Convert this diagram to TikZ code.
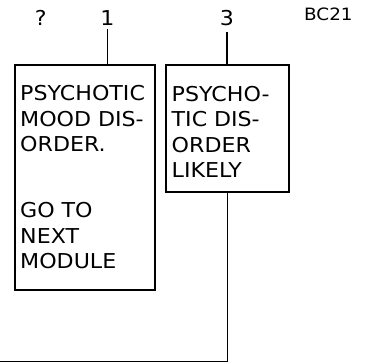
\documentclass[tikz,border=0pt]{standalone}
\usepackage{fontspec}
\setmainfont{DejaVu Sans}[FakeStretch=1.08]
\tikzset{
  box/.style={draw,line width=1.8pt,inner sep=0pt,anchor=north west},
  boxtext/.style={inner sep=0pt,anchor=base west,align=left,text width=125pt,
    font=\fontsize{20.5}{25.5}\selectfont},
  label/.style={anchor=base,inner sep=3.5pt,font=\fontsize{20.5}{24}\selectfont},
  link/.style={line width=1.8pt}
}
\begin{document}
\begin{tikzpicture}[x=1pt,y=-1pt]
  \useasboundingbox (0,0) rectangle (370,363);

  \node[label] (unknown) at (40.7,25.7) {?};
  \node[label] (one) at (107.5,25.7) {1};
  \node[label,inner sep=6pt] (three) at (227,25.7) {3};
  \node[anchor=base west,inner sep=0pt,font=\fontsize{17}{20}\selectfont] (code) at (304,20.7) {BC21};

  \node[box,minimum width=140pt,minimum height=225pt] (mood) at (14,64) {};
  \node[box,minimum width=123pt,minimum height=127pt] (likely) at (165,64) {};

  \node[boxtext] (moodtext) at (20,100.7) {PSYCHOTIC\\MOOD DIS-\\ORDER.\\[40.8pt]GO TO\\NEXT\\MODULE};
  \node[boxtext,text width=110pt] (likelytext) at (171.5,101.2) {PSYCHO-\\TIC DIS-\\ORDER\\LIKELY};

  \coordinate (exit) at (0,361.5);

 \draw[link] (one.south) to (one.south |- mood.north);
 \draw[link] (three.south) to (three.south |- likely.north);
 \draw[link] (likely.south) |- (exit);
\end{tikzpicture}
\end{document}
